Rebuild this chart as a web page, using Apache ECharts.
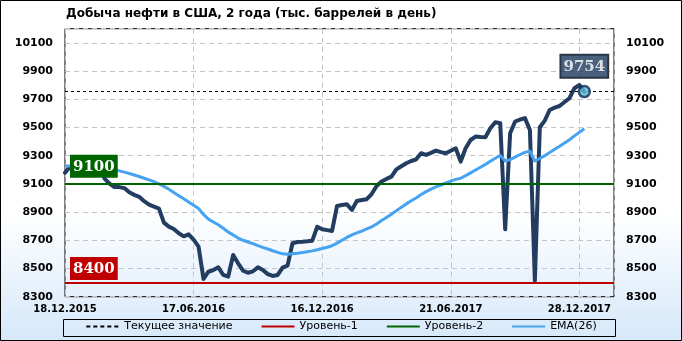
<!DOCTYPE html>
<html><head><meta charset="utf-8">
<script src="https://cdn.jsdelivr.net/npm/echarts@6/dist/echarts.min.js"></script>
<style>
html,body{margin:0;padding:0;background:#fff}
#c{width:682px;height:341px;background:linear-gradient(to bottom,#ffffff 0%,#ffffff 62%,#d6e8fa 100%)}
</style>
</head><body><div id="c"></div>
<script>
// ---- data ----
const tickLabels = ['18.12.2015','17.06.2016','16.12.2016','21.06.2017','28.12.2017'];
const tickStep = 26;          // weeks between labelled ticks
const weekSlots = 111;        // x extent in weeks
const production = [
  9179,9222,9219,9235,9227,9221,9218,9235,9137,9102,
  9077,9077,9070,9040,9022,9008,8977,8953,8938,8925,
  8825,8797,8780,8750,8728,8742,8705,8655,8426,8477,
  8489,8508,8454,8442,8596,8537,8485,8470,8480,8508,
  8489,8460,8447,8454,8506,8520,8679,8688,8690,8693,
  8697,8796,8778,8772,8766,8943,8950,8955,8915,8979,
  8985,8991,9028,9085,9116,9135,9151,9203,9225,9246,
  9262,9274,9317,9305,9320,9336,9325,9317,9335,9352,
  9258,9352,9411,9435,9432,9430,9494,9537,9530,8778,
  9459,9542,9556,9566,9482,8413,9501,9548,9624,9640,
  9652,9680,9707,9778,9801,9754
];
const ema26 = [
  9227,9227,9227,9228,9228,9228,9227,9228,9220,9211,
  9200,9192,9183,9173,9163,9152,9140,9128,9116,9100,
  9082,9062,9039,9016,8994,8971,8948,8925,8883,8850,
  8830,8810,8785,8758,8738,8716,8700,8688,8676,8662,
  8650,8638,8626,8614,8604,8601,8604,8608,8613,8618,
  8625,8633,8642,8651,8661,8680,8700,8720,8738,8752,
  8765,8780,8795,8815,8840,8862,8884,8910,8934,8958,
  8980,9000,9024,9045,9062,9078,9092,9106,9120,9132,
  9140,9158,9178,9198,9218,9238,9260,9282,9302,9262,
  9272,9290,9308,9323,9332,9262,9280,9300,9322,9345,
  9367,9390,9413,9440,9466,9490
];
const level1 = 8400;
const level2 = 9100;
const currentValue = 9754;
const yMin = 8300, yMax = 10200, yStep = 200;
const legendNames = ['Текущее значение','Уровень-1','Уровень-2','EMA(26)'];

// ---- chart ----
const chart = echarts.init(document.getElementById('c'), null, {renderer:'canvas'});
const lastIdx = production.length - 1;
const navy = '#223d60';
const labelFont = {fontFamily:'DejaVu Serif', fontWeight:'bold', fontSize:15, color:'#fff', lineHeight:16};

const yAxisBase = {
  type:'value', min:yMin, max:yMax, interval:yStep,
  axisLine:{show:false}, axisTick:{show:false},
  axisLabel:{showMaxLabel:false, margin:12, fontFamily:'DejaVu Sans', fontWeight:'bold', fontSize:11, color:'#000',
    formatter:v => String(v)}
};

chart.setOption({
  animation:false,
  title:{text:'Добыча нефти в США, 2 года (тыс. баррелей в день)', left:66, top:8, padding:0,
    textStyle:{fontFamily:'DejaVu Sans', fontWeight:'bold', fontSize:12, color:'#000'}},
  grid:{left:65, right:68, top:28.7, bottom:44.3, show:true, borderColor:'#000', borderWidth:1, backgroundColor:'transparent'},
  legend:{
    left:'center', top:321, itemWidth:33, itemHeight:10, itemGap:28, padding:0,
    itemStyle:{opacity:0},
    data:legendNames,
    textStyle:{fontFamily:'DejaVu Sans', fontSize:11, color:'#000'}
  },
  xAxis:{
    type:'value', min:0, max:weekSlots, interval:tickStep,
    axisLine:{show:false}, axisTick:{show:false},
    splitLine:{show:true, lineStyle:{color:'#c4c4c4', type:[5,4], width:1}},
    axisLabel:{showMaxLabel:false, margin:8, fontFamily:'DejaVu Sans', fontWeight:'bold', fontSize:10, color:'#000',
      formatter:v => (v % tickStep === 0 && tickLabels[v/tickStep]) ? tickLabels[v/tickStep] : ''}
  },
  yAxis:[
    Object.assign({}, yAxisBase, {position:'left', splitLine:{show:true, lineStyle:{color:'#c4c4c4', type:[5,4], width:1}}}),
    Object.assign({}, yAxisBase, {position:'right', splitLine:{show:false}})
  ],
  series:[
    {
      name:'production', type:'line', z:3, symbol:'none',
      data: production.map((v,i)=>[i,v]),
      lineStyle:{color:navy, width:4, join:'round', cap:'round'}
    },
    {
      name:legendNames[3], type:'line', z:4, symbol:'none', color:'#45a3f2',
      data: ema26.map((v,i)=>[i,v]),
      lineStyle:{color:'#45a3f2', width:3, join:'round'}
    },
    {
      name:legendNames[0], type:'line', z:5, symbol:'none', color:'#000', data:[],
      lineStyle:{color:'#000', width:1, type:[4,3]},
      markLine:{silent:true, symbol:'none', label:{show:false},
        lineStyle:{color:'#000', width:1, type:[3,3]}, data:[{yAxis:currentValue}]}
    },
    {
      name:legendNames[1], type:'line', z:6, symbol:'none', color:'#c00000', data:[],
      lineStyle:{color:'#c00000', width:3},
      markLine:{silent:true, symbol:'none', z:6,
        lineStyle:{color:'#c00000', width:2, type:'solid'},
        label:Object.assign({show:true, position:'insideStartTop', distance:[5,2.5], formatter:String(level1),
          backgroundColor:'#c00000', padding:[4,3,3,3]}, labelFont),
        data:[{yAxis:level1}]}
    },
    {
      name:legendNames[2], type:'line', z:6, symbol:'none', color:'#006400', data:[],
      lineStyle:{color:'#006400', width:3},
      markLine:{silent:true, symbol:'none', z:6,
        lineStyle:{color:'#006400', width:2, type:'solid'},
        label:Object.assign({show:true, position:'insideStartTop', distance:[5,6], formatter:String(level2),
          backgroundColor:'#006400', padding:[4,3,3,3]}, labelFont),
        data:[{yAxis:level2}]}
    },
    {
      name:'last', type:'scatter', z:8, symbol:'circle', symbolSize:11,
      data:[[lastIdx, production[lastIdx]]],
      itemStyle:{color:'#5fbad8', borderColor:'#0f2d55', borderWidth:2.5},
      label:Object.assign({show:true, position:'top', distance:7, formatter:p=>String(p.value[1]),
        backgroundColor:'#1d3a5e', borderColor:'#000', borderWidth:1, padding:[4,3,3,3]}, labelFont)
    }
  ],
  graphic:[
    {type:'rect', silent:true, z:100, shape:{x:63.5, y:319.5, width:552, height:17}, style:{fill:'none', stroke:'#000', lineWidth:1}},
    {type:'rect', silent:true, z:100, shape:{x:0.5, y:0.5, width:681, height:340}, style:{fill:'none', stroke:'#000', lineWidth:1}}
  ]
});
</script>
</body></html>
